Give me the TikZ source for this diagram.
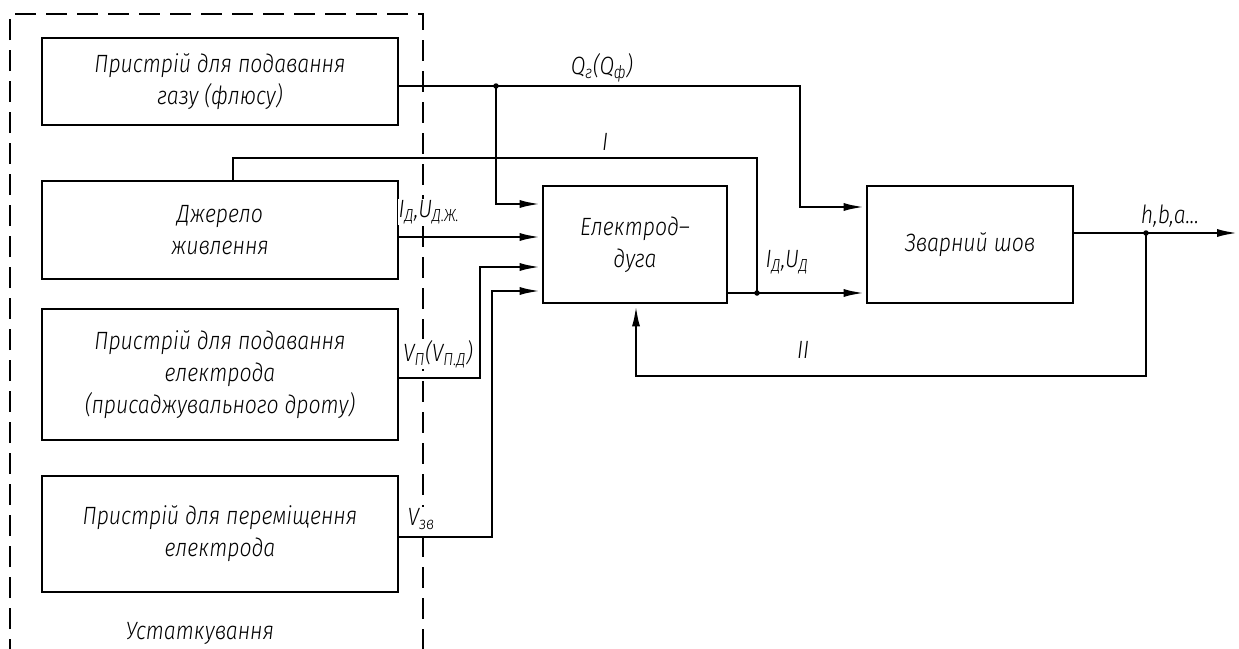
\documentclass[tikz,border=0pt]{standalone}
\usepackage{fontspec}
\setmainfont{Fira Sans Light Italic}[FakeStretch=0.85]
\usetikzlibrary{arrows.meta}
\begin{document}
\begin{tikzpicture}[x=1pt,y=-1pt,
  box/.style={draw,line width=2.8pt,align=center,inner sep=0pt,font=\fontsize{25}{32}\selectfont},
  conn/.style={line width=2.8pt},
  arr/.style={conn,-{Latex[length=22pt,width=8pt]}},
  lbl/.style={inner sep=1pt,font=\fontsize{25}{28}\selectfont},
  dot/.style={fill,circle,inner sep=0pt,minimum size=5.5pt}]
\useasboundingbox (0,0) rectangle (1239,648);
% equipment frame
\draw[line width=2.8pt,dash pattern=on 21pt off 10pt] (10,660) -- (10,14) -- (423,14) -- (423,660);
% boxes
\node[box,minimum width=356pt,minimum height=87pt] (b1) at (220,81.5) {Пристрій для подавання\\газу (флюсу)};
\node[box,minimum width=356pt,minimum height=98pt] (b2) at (220,230) {Джерело\\живлення};
\node[box,minimum width=356pt,minimum height=131pt] (b3) at (220,374.5) {Пристрій для подавання\\електрода\\(присаджувального дроту)};
\node[box,minimum width=356pt,minimum height=116pt] (b4) at (220,534) {Пристрій для переміщення\\електрода};
\node[box,minimum width=184pt,minimum height=117pt] (el) at (635,244.5) {Електрод--\\дуга};
\node[box,minimum width=206pt,minimum height=117pt] (ws) at (970,244.5) {Зварний шов};
\node[lbl,fill=white] (eq) at (200,633) {Устаткування};
% coordinates
\coordinate (j1) at (496,86);
\coordinate (j2) at (757,293);
\coordinate (j3) at (1146,233);
\coordinate (out) at (1239,233);
% connectors
\draw[arr] (b1.east |- j1) -- (800,86) -- (800,207) -- (ws.west |- 0,207);
\draw[arr] (j1) -- (496,204) -- (el.west |- 0,204);
\draw[conn] (233,0 |- b2.north) -- (233,158) -- (757,158) -- (j2);
\draw[arr] (el.east |- j2) -- (ws.west |- j2);
\draw[arr] (b2.east |- 0,237) -- (el.west |- 0,237);
\draw[arr] (b3.east |- 0,378) -- (480,378) -- (480,267) -- (el.west |- 0,267);
\draw[arr] (b4.east |- 0,537) -- (492,537) -- (492,291) -- (el.west |- 0,291);
\draw[arr] (ws.east |- j3) -- (out);
\draw[arr] (j3) -- (1146,376) -- (636,376) -- (636,0 |- el.south);
\node[dot] at (j1) {};
\node[dot] at (j2) {};
\node[dot] at (j3) {};
% labels
\node[lbl] (lq) at (602,68) {Q\textsubscript{г}(Q\textsubscript{ф})};
\node[lbl] (li) at (605,142) {I};
\node[lbl,fill=white] (lsrc) at (429,212) {I\textsubscript{Д},U\textsubscript{Д.Ж.}};
\node[lbl,fill=white] (lvp) at (438,354) {V\textsubscript{П}(V\textsubscript{П.Д})};
\node[lbl,fill=white] (lvz) at (421,519) {V\textsubscript{зв}};
\node[lbl] (lid) at (787,262) {I\textsubscript{Д},U\textsubscript{Д}};
\node[lbl] (lii) at (803,350) {II};
\node[lbl] (lh) at (1170,216) {h,b,a...};
\end{tikzpicture}
\end{document}
